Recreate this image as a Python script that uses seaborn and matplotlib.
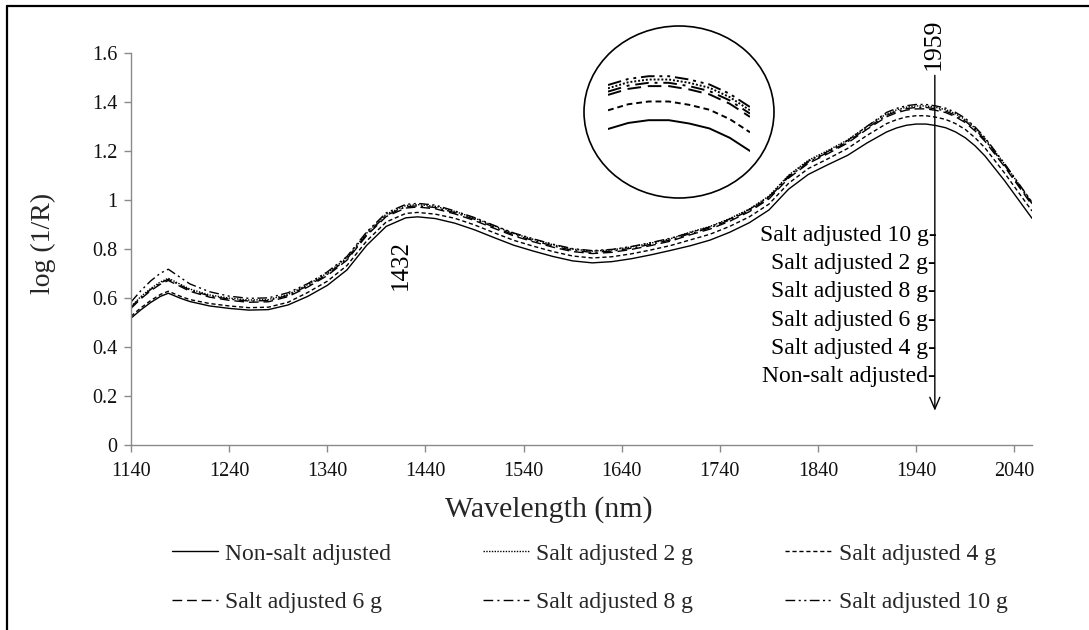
import matplotlib
matplotlib.use("Agg")
import matplotlib.pyplot as plt
from matplotlib.patches import Ellipse
from matplotlib.lines import Line2D
import pandas as pd
import seaborn as sns

# NIR absorbance spectra, log(1/R), by salt treatment
wavelength = [1140, 1150, 1160, 1170, 1178, 1190, 1200, 1220, 1240, 1260, 1280, 1300,
              1320, 1340, 1360, 1380, 1400, 1420, 1432, 1450, 1470, 1490, 1510, 1530,
              1550, 1570, 1590, 1610, 1630, 1650, 1670, 1690, 1710, 1730, 1750, 1770,
              1790, 1810, 1830, 1850, 1870, 1890, 1910, 1920, 1930, 1940, 1950, 1960,
              1970, 1980, 1990, 2000, 2010, 2030, 2050, 2058]

non_salt = [0.518, 0.552, 0.582, 0.607, 0.620, 0.600, 0.586, 0.568, 0.558, 0.551, 0.553, 0.572,
            0.607, 0.652, 0.715, 0.815, 0.893, 0.928, 0.932, 0.925, 0.906, 0.879, 0.847, 0.816,
            0.792, 0.770, 0.752, 0.744, 0.749, 0.761, 0.777, 0.795, 0.814, 0.837, 0.869, 0.908,
            0.960, 1.045, 1.105, 1.145, 1.183, 1.234, 1.279, 1.295, 1.306, 1.311, 1.311, 1.305,
            1.296, 1.279, 1.255, 1.222, 1.181, 1.080, 0.970, 0.926]

salt_2g = [0.566, 0.606, 0.639, 0.666, 0.681, 0.657, 0.637, 0.613, 0.600, 0.592, 0.594, 0.615,
           0.655, 0.702, 0.765, 0.865, 0.943, 0.978, 0.982, 0.975, 0.954, 0.927, 0.895, 0.864,
           0.840, 0.818, 0.800, 0.792, 0.797, 0.809, 0.825, 0.843, 0.870, 0.893, 0.925, 0.964,
           1.017, 1.102, 1.163, 1.203, 1.246, 1.302, 1.353, 1.369, 1.380, 1.385, 1.385, 1.379,
           1.370, 1.353, 1.329, 1.294, 1.252, 1.148, 1.035, 0.990]

salt_4g = [0.526, 0.560, 0.590, 0.615, 0.628, 0.608, 0.594, 0.578, 0.568, 0.561, 0.563, 0.583,
           0.623, 0.669, 0.733, 0.833, 0.911, 0.946, 0.950, 0.943, 0.926, 0.899, 0.867, 0.836,
           0.812, 0.790, 0.772, 0.764, 0.769, 0.781, 0.797, 0.815, 0.838, 0.861, 0.893, 0.932,
           0.984, 1.069, 1.129, 1.169, 1.211, 1.265, 1.313, 1.329, 1.340, 1.345, 1.345, 1.339,
           1.330, 1.313, 1.289, 1.255, 1.214, 1.111, 1.000, 0.956]

salt_6g = [0.558, 0.597, 0.630, 0.657, 0.672, 0.648, 0.628, 0.604, 0.591, 0.583, 0.585, 0.606,
           0.645, 0.692, 0.755, 0.855, 0.933, 0.968, 0.972, 0.965, 0.944, 0.917, 0.885, 0.854,
           0.830, 0.808, 0.790, 0.782, 0.787, 0.799, 0.815, 0.833, 0.859, 0.882, 0.914, 0.953,
           1.005, 1.090, 1.150, 1.190, 1.233, 1.290, 1.341, 1.357, 1.368, 1.373, 1.373, 1.367,
           1.358, 1.341, 1.317, 1.283, 1.241, 1.137, 1.025, 0.980]

salt_8g = [0.563, 0.602, 0.635, 0.662, 0.677, 0.653, 0.633, 0.609, 0.596, 0.588, 0.590, 0.611,
           0.650, 0.697, 0.760, 0.860, 0.938, 0.973, 0.977, 0.970, 0.949, 0.922, 0.890, 0.859,
           0.835, 0.813, 0.795, 0.787, 0.792, 0.804, 0.820, 0.838, 0.864, 0.887, 0.919, 0.958,
           1.010, 1.095, 1.155, 1.195, 1.238, 1.295, 1.347, 1.363, 1.374, 1.379, 1.379, 1.373,
           1.364, 1.347, 1.323, 1.289, 1.247, 1.143, 1.031, 0.986]

salt_10g = [0.584, 0.630, 0.670, 0.702, 0.718, 0.685, 0.658, 0.626, 0.608, 0.599, 0.601, 0.622,
            0.659, 0.707, 0.770, 0.870, 0.948, 0.983, 0.987, 0.980, 0.956, 0.929, 0.897, 0.866,
            0.842, 0.820, 0.802, 0.794, 0.799, 0.811, 0.827, 0.845, 0.868, 0.891, 0.923, 0.962,
            1.014, 1.099, 1.159, 1.199, 1.243, 1.302, 1.359, 1.375, 1.386, 1.391, 1.391, 1.385,
            1.376, 1.359, 1.335, 1.299, 1.256, 1.150, 1.037, 0.992]

series_names = ["Non-salt adjusted", "Salt adjusted 2 g", "Salt adjusted 4 g",
                "Salt adjusted 6 g", "Salt adjusted 8 g", "Salt adjusted 10 g"]
series_values = [non_salt, salt_2g, salt_4g, salt_6g, salt_8g, salt_10g]

# order of the series at the 1959 nm band, top to bottom
order_at_1959 = ["Salt adjusted 10 g", "Salt adjusted 2 g", "Salt adjusted 8 g",
                 "Salt adjusted 6 g", "Salt adjusted 4 g", "Non-salt adjusted"]

peak_bands = [1432, 1959]
x_ticks = [1140, 1240, 1340, 1440, 1540, 1640, 1740, 1840, 1940, 2040]
y_ticks = [0, 0.2, 0.4, 0.6, 0.8, 1.0, 1.2, 1.4, 1.6]
y_tick_labels = ["0", "0.2", "0.4", "0.6", "0.8", "1", "1.2", "1.4", "1.6"]

dash_patterns = {
    "Non-salt adjusted": "-",
    "Salt adjusted 2 g": (0, (1.0, 1.0)),
    "Salt adjusted 4 g": (0, (3.0, 2.0)),
    "Salt adjusted 6 g": (0, (7.0, 3.5)),
    "Salt adjusted 8 g": (0, (7.0, 3.0, 1.5, 3.0)),
    "Salt adjusted 10 g": (0, (7.0, 2.5, 1.5, 2.5, 1.5, 2.5)),
}

df = pd.concat(
    [pd.DataFrame({"wavelength": wavelength, "absorbance": vals, "series": name})
     for name, vals in zip(series_names, series_values)],
    ignore_index=True,
)

sns.set_theme(style="ticks")
plt.rcParams["font.family"] = ["Liberation Serif", "DejaVu Serif"]
plt.rcParams["axes.edgecolor"] = "#8a8a8a"
plt.rcParams["xtick.color"] = "#8a8a8a"
plt.rcParams["ytick.color"] = "#8a8a8a"
plt.rcParams["xtick.labelcolor"] = "#111111"
plt.rcParams["ytick.labelcolor"] = "#111111"

W, H = 1089, 630
fig = plt.figure(figsize=(W / 100, H / 100), dpi=100)
fig.patch.set_facecolor("white")

ax = fig.add_axes([131 / W, 1 - 445 / H, (1032 - 131) / W, (445 - 53.3) / H])

for name in series_names:
    sub = df[df["series"] == name]
    sns.lineplot(data=sub, x="wavelength", y="absorbance", ax=ax, color="black",
                 linewidth=1.0, linestyle=dash_patterns[name], label=name)
if ax.get_legend() is not None:
    ax.get_legend().remove()

ax.set_xlim(1140, 2058)
ax.set_ylim(0, 1.6)
ax.set_xticks(x_ticks)
ax.set_xticklabels([str(t) for t in x_ticks])
ax.set_yticks(y_ticks)
ax.set_yticklabels(y_tick_labels)
ax.tick_params(axis="both", labelsize=14.5, length=5, width=1, direction="out")
ax.tick_params(axis="x", pad=7)
ax.tick_params(axis="y", pad=5)
for s in ("top", "right"):
    ax.spines[s].set_visible(False)
for s in ("left", "bottom"):
    ax.spines[s].set_linewidth(1.0)

ax.set_xlabel("Wavelength (nm)", fontsize=21.5)
ax.xaxis.set_label_coords(0.464, -0.130)
ax.set_ylabel("log (1/R)", fontsize=20, labelpad=25)
ax.yaxis.set_label_coords(-0.083, 0.515)

# band annotations
ax.text(1415, 0.735, str(peak_bands[0]), rotation=90, fontsize=18,
        ha="center", va="center", color="black")
ax.text(peak_bands[1] - 1.5, 1.637, str(peak_bands[1]), rotation=90, fontsize=18.5,
        ha="center", va="center", color="black", clip_on=False)
ax.annotate("", xy=(peak_bands[1], 0.14), xytext=(peak_bands[1], 1.51),
            arrowprops=dict(arrowstyle="->,head_length=0.7,head_width=0.3",
                            color="black", lw=1.0, shrinkA=0, shrinkB=0),
            annotation_clip=False)

label_top = 0.857
label_step = 0.1158
for i, name in enumerate(order_at_1959):
    ax.text(peak_bands[1] + 1.5, label_top - i * label_step, name + "-", fontsize=17,
            ha="right", va="center", color="black")

# magnified view of the 1959 nm maximum
ell = Ellipse((679 / W, 1 - 112 / H), 190 / W, 172 / H, transform=fig.transFigure,
              facecolor="none", edgecolor="black", linewidth=1.2)
fig.patches.append(ell)

inset = fig.add_axes([608 / W, 1 - 165 / H, 142 / W, 95 / H])
zoom = df[(df["wavelength"] >= 1920) & (df["wavelength"] <= 1990)]
for name in series_names:
    sub = zoom[zoom["series"] == name]
    sns.lineplot(data=sub, x="wavelength", y="absorbance", ax=inset, color="black",
                 linewidth=1.4, linestyle=dash_patterns[name])
inset.set_xlim(1920, 1990)
inset.set_ylim(1.2295, 1.4023)
inset.axis("off")
inset.patch.set_alpha(0)

# legend in two rows of three
handles = [Line2D([0], [0], color="black", lw=1.0, linestyle=dash_patterns[n])
           for n in series_names]
leg_order = [0, 3, 1, 4, 2, 5]
fig.legend([handles[i] for i in leg_order], [series_names[i] for i in leg_order],
           ncol=3, loc="upper left", bbox_to_anchor=(172 / W, 1 - 543 / H),
           frameon=False, fontsize=17, handlelength=1.95, handletextpad=0.3,
           columnspacing=3.9, labelspacing=1.15, borderpad=0, borderaxespad=0)

# outer frame
fig.add_artist(Line2D([7 / W, 1], [1 - 6 / H, 1 - 6 / H], transform=fig.transFigure,
                      color="black", lw=1.6))
fig.add_artist(Line2D([7 / W, 7 / W], [0, 1 - 6 / H], transform=fig.transFigure,
                      color="black", lw=1.6))

fig.savefig("out.png", dpi=100, facecolor="white")
